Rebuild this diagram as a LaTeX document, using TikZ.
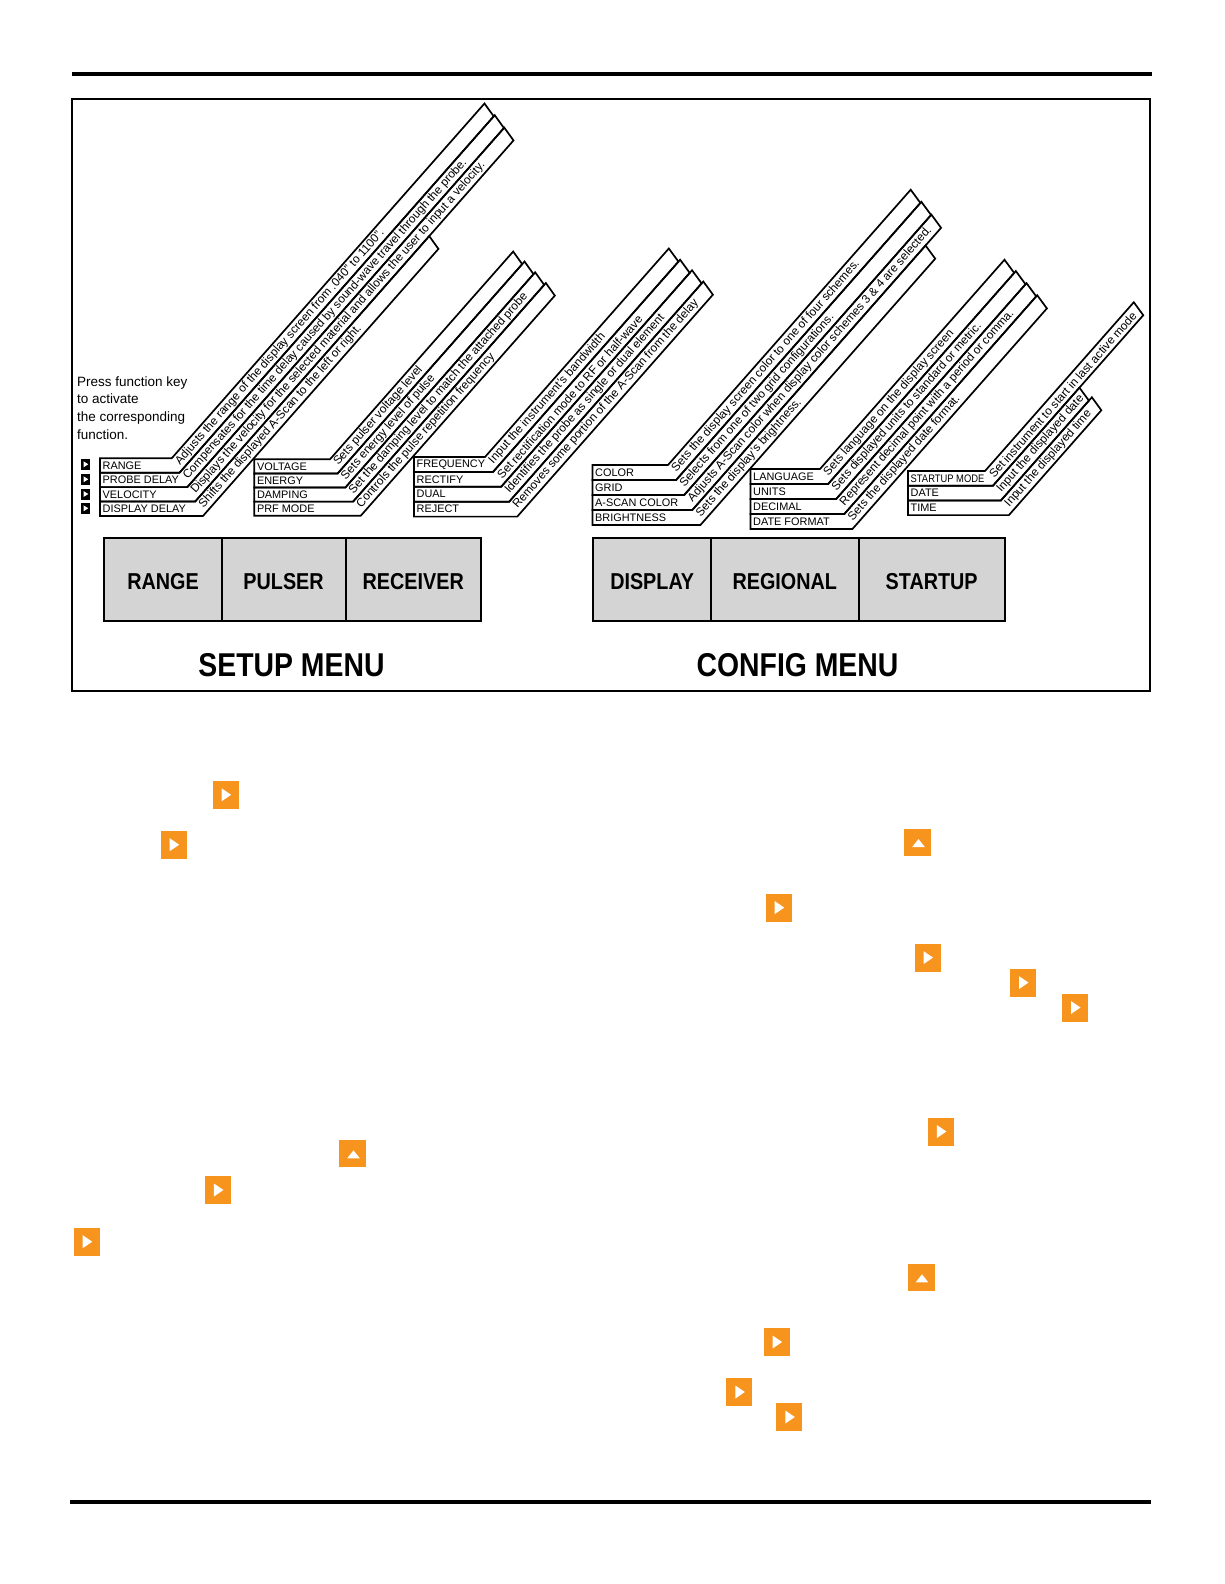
\documentclass[tikz,border=0pt]{standalone}
\usepackage{fontspec}
\setmainfont{Liberation Sans}
\setsansfont{Liberation Sans}
\newfontfamily\narrowfont[FakeStretch=0.86]{Liberation Sans}
\usepackage{tikz}
\usetikzlibrary{positioning, calc}
\definecolor{keygray}{RGB}{212, 212, 212}
\definecolor{keyorange}{RGB}{247, 148, 29}
\newcommand{\stripang}{48.6}

% one fan of menu strips: name, left x, top y, bend x, row height, label/text/end
\newcommand{\stripgroup}[6]{%
  \pgfmathsetmacro{\striph}{#5}%
  \pgfmathsetmacro{\stripd}{#5+1}%
  \pgfmathsetmacro{\stripbs}{(\stripd-\striph*cos(\stripang))/sin(\stripang)}%
  \pgfmathsetmacro{\stripba}{\stripbs*cos(\stripang)-\striph*sin(\stripang)}%
  \foreach \lab/\txt/\len [count=\i from 0] in {#6} {
    \pgfmathtruncatemacro{\j}{\i+1}
    \pgfmathsetmacro{\striptl}{\len-\i*(\stripba)}
    \pgfmathsetmacro{\stripbl}{\len-3.5-\j*(\stripba)}
    \path (#4+\i*\stripbs,-#3-\i*\striph) coordinate (#1-p\i)
      ++(\stripang:\striptl) coordinate (#1-q\i);
    \path (#4+\j*\stripbs,-#3-\j*\striph) coordinate (#1-r\i)
      ++(\stripang:\stripbl) coordinate (#1-s\i);
    \draw[stripline] (#2,-#3-\i*\striph) -- (#1-p\i) -- (#1-q\i) -- (#1-s\i)
      -- (#1-r\i) -- (#2,-#3-\j*\striph) -- cycle;
    \node[striplabel] (#1-l\i) at (#2+2.5,-#3-\i*\striph-0.5*\striph) {\lab};
    \node[striptext, rotate=\stripang] (#1-t\i)
      at ($(#1-p\i)!0.5!(#1-r\i)+(\stripang:3)$) {\txt};
  }%
}

\begin{document}
\begin{tikzpicture}[x=1pt, y=1pt,
    stripline/.style={draw, line width=1.7pt, line join=miter},
    striplabel/.style={anchor=west, inner sep=0pt, font=\fontsize{10.9}{10.9}\selectfont},
    striptext/.style={anchor=west, inner sep=0pt, font=\fontsize{11.8}{11.8}\selectfont},
    keybox/.style={draw, line width=2pt, fill=keygray, outer sep=0pt, inner sep=0pt,
      minimum height=82.4pt, text height=20.7pt, text depth=0pt,
      font=\narrowfont\bfseries\fontsize{23}{23}\selectfont},
    menutitle/.style={inner sep=0pt, font=\narrowfont\bfseries\fontsize{33}{33}\selectfont},
    fkey/.style={fill=black, minimum width=9.5pt, minimum height=11pt, inner sep=0pt,
      path picture={\fill[white] ([shift={(-2pt,3pt)}]path picture bounding box.center)
        -- ++(4.8pt,-3pt) -- ++(-4.8pt,-3pt) -- cycle;}},
    okright/.style={fill=keyorange, minimum width=26pt, minimum height=28pt, inner sep=0pt,
      path picture={\fill[white] ([shift={(-4pt,6.5pt)}]path picture bounding box.center)
        -- ++(9.5pt,-6.5pt) -- ++(-9.5pt,-6.5pt) -- cycle;}},
    okup/.style={fill=keyorange, minimum size=27pt, inner sep=0pt,
      path picture={\fill[white] ([shift={(-5.5pt,-4.5pt)}]path picture bounding box.center)
        -- ++(12.6pt,0pt) -- ++(-6.3pt,8pt) -- cycle;}}
  ]
  \useasboundingbox (0,0) rectangle (1224,-1584);

  % page rules and figure frame
  \draw[line width=4pt] (72,-74) -- (1152,-74);
  \draw[line width=2pt] (72,-99) rectangle (1150,-691);
  \draw[line width=4pt] (70,-1502) -- (1151,-1502);

  \node[anchor=north west, inner sep=0pt, align=left,
    font=\fontsize{13.5}{17.7}\selectfont] (presskey) at (77,-376.3)
    {Press function key\\to activate\\the corresponding\\function.};
  \foreach \y [count=\n] in {464.3, 479.3, 494, 508.3}
    \node[fkey] (fk\n) at (85.5,-\y) {};

  % setup menu strips
  \stripgroup{rng}{100}{458.3}{171.7}{14.4}{%
    RANGE/{Adjusts the range of the display screen from .040" to 1100".}/473,
    PROBE DELAY/{Compensates for the time delay caused by sound-wave travel through the probe.}/471,
    VELOCITY/{Displays the velocity for the selected material and allows the user to input a velocity.}/468,
    DISPLAY DELAY/{Shifts the displayed A-Scan to the left or right.}/337}
  \stripgroup{pls}{254.3}{459.3}{330}{14.1}{%
    VOLTAGE/{Sets pulser voltage level}/277,
    ENERGY/{Sets energy level of pulse}/277,
    DAMPING/{Set the damping level to match the attached probe}/276,
    PRF MODE/{Controls the pulse repetition frequency}/275}
  \stripgroup{rcv}{414}{457}{485}{14.9}{%
    FREQUENCY/{Input the instrument's bandwidth}/278,
    RECTIFY/{Set rectification mode to RF or half-wave}/277,
    DUAL/{Identifies the probe as single or dual element}/277,
    REJECT/{Removes some portion of the A-Scan from the delay}/276}

  % config menu strips
  \stripgroup{dsp}{592.5}{465}{668}{15}{%
    COLOR/{Sets the display screen color to one of four schemes.}/367,
    GRID/{Selects from one of two grid configurations.}/365,
    A-SCAN COLOR/{Adjusts A-Scan color when display color schemes 3 \& 4 are selected.}/362,
    BRIGHTNESS/{Sets the display's brightness.}/335}
  \stripgroup{reg}{750.5}{469}{820}{15}{%
    LANGUAGE/{Sets language on the display screen}/279,
    UNITS/{Sets displayed units to standard or metric.}/278,
    DECIMAL/{Represent decimal point with a period or comma.}/276,
    DATE FORMAT/{Sets the displayed date format.}/274}
  \stripgroup{stu}{908}{471}{985}{14.7}{%
    {\narrowfont STARTUP MODE}/{Set instrument to start in last active mode}/225,
    DATE/{Input the displayed date}/125,
    TIME/{Input the displayed time}/126}

  % function keys
  \node[keybox, minimum width=117.3pt] (rangekey) at (163.05,-579.5) {RANGE};
  \node[keybox, minimum width=123.8pt, right=0pt of rangekey] (pulserkey) {PULSER};
  \node[keybox, minimum width=135.5pt, right=0pt of pulserkey] (receiverkey) {RECEIVER};
  \node[keybox, minimum width=117.6pt] (displaykey) at (652.2,-579.5) {DISPLAY};
  \node[keybox, minimum width=147.5pt, right=0pt of displaykey] (regionalkey) {REGIONAL};
  \node[keybox, minimum width=146.3pt, right=0pt of regionalkey] (startupkey) {STARTUP};

  \node[menutitle] (setupmenu) at (291.5,-665) {SETUP MENU};
  \node[menutitle] (configmenu) at (797.5,-665) {CONFIG MENU};

  % orange key icons
  \foreach \x/\y [count=\n] in {225.6/794.8, 173.7/844.7, 778.7/907.6, 927.5/957.6,
      1023/982.6, 1075/1007.5, 940.9/1131.5, 217.9/1190, 86.7/1241.7,
      776.6/1342, 739.4/1392, 789.3/1417}
    \node[okright] (okr\n) at (\x,-\y) {};
  \foreach \x/\y [count=\n] in {917.7/842.5, 352.7/1153.8, 921.2/1277.8}
    \node[okup] (oku\n) at (\x,-\y) {};
\end{tikzpicture}
\end{document}
